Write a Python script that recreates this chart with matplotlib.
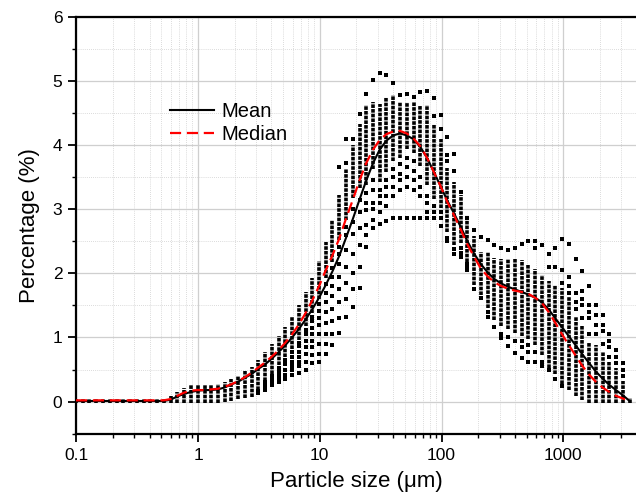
import matplotlib
matplotlib.use("Agg")
import matplotlib.pyplot as plt
from matplotlib.ticker import FixedLocator, FixedFormatter, MultipleLocator, NullFormatter, LogLocator

plt.rcParams['font.family'] = ['Liberation Sans', 'DejaVu Sans']

# Size classes (µm)
sizes = [0.0995, 0.113, 0.128, 0.146, 0.166, 0.188, 0.214, 0.243, 0.276, 0.314,
         0.357, 0.405, 0.460, 0.523, 0.594, 0.675, 0.767, 0.872, 0.991,
         1.13, 1.28, 1.45, 1.65, 1.88, 2.13, 2.42, 2.75, 3.12, 3.55, 4.03, 4.58,
         5.21, 5.92, 6.72, 7.64, 8.68, 9.86,
         11.2, 12.7, 14.5, 16.4, 18.7, 21.2, 24.1, 27.4, 31.1, 35.3, 40.1, 45.6,
         51.8, 58.9, 66.9, 76.0, 86.4, 98.1,
         111, 127, 144, 163, 186, 211, 240, 272, 310, 352, 400, 454, 516, 586,
         666, 756, 859, 976,
         1110, 1260, 1430, 1630, 1850, 2100, 2390, 2710, 3080, 3500]

mean_pct = [0.01] * 14 + [0.03, 0.08, 0.12, 0.15, 0.17,
            0.18, 0.18, 0.19, 0.22, 0.27, 0.31, 0.37, 0.43, 0.51, 0.58, 0.67, 0.77,
            0.88, 1.00, 1.13, 1.28, 1.44, 1.62,
            1.82, 2.03, 2.28, 2.55, 2.85, 3.15, 3.45, 3.72, 3.93, 4.07, 4.15, 4.18,
            4.15, 4.09, 3.97, 3.80, 3.58, 3.36,
            3.14, 2.93, 2.72, 2.50, 2.30, 2.14, 2.01, 1.91, 1.84, 1.79, 1.75, 1.71,
            1.67, 1.62, 1.55, 1.44, 1.30, 1.16,
            1.02, 0.88, 0.74, 0.60, 0.47, 0.36, 0.26, 0.18, 0.10, 0.01]

median_pct = [0.02] * 14 + [0.04, 0.09, 0.14, 0.17, 0.18,
              0.18, 0.19, 0.20, 0.23, 0.27, 0.32, 0.38, 0.45, 0.53, 0.61, 0.70, 0.80,
              0.92, 1.05, 1.20, 1.38, 1.58, 1.80,
              2.05, 2.28, 2.55, 2.85, 3.15, 3.45, 3.72, 3.93, 4.08, 4.17, 4.21, 4.22,
              4.18, 4.10, 3.98, 3.80, 3.58, 3.36,
              3.12, 2.90, 2.68, 2.45, 2.25, 2.07, 1.95, 1.86, 1.80, 1.76, 1.73, 1.71,
              1.68, 1.62, 1.54, 1.40, 1.23, 1.05,
              0.88, 0.72, 0.56, 0.42, 0.31, 0.22, 0.15, 0.09, 0.05, 0.00]

# Densely packed sample values per size class: lower and upper end of the cluster
cluster_lo = [0.0] * 14 + [0, 0, 0, 0, 0,
              0, 0, 0, 0.02, 0.04, 0.06, 0.08, 0.10, 0.20, 0.35, 0.45, 0.60,
              0.72, 0.85, 0.98, 1.20, 1.40, 1.62,
              1.95, 2.20, 2.55, 2.85, 3.20, 3.35, 3.40, 3.65, 3.45, 3.60, 3.77, 3.82,
              3.97, 3.90, 3.70, 3.40, 3.19, 3.04,
              2.67, 2.47, 2.50, 2.20, 1.84, 1.69, 1.48, 1.30, 1.20, 1.15, 1.10, 1.05,
              1.00, 0.90, 0.75, 0.55, 0.45, 0.30,
              0.20, 0.12, 0.05, 0, 0, 0, 0, 0, 0, 0]
cluster_hi = [0.02] * 14 + [0.06, 0.12, 0.19, 0.23, 0.24,
              0.24, 0.24, 0.25, 0.28, 0.32, 0.38, 0.45, 0.52, 0.62, 0.75, 0.88, 1.00,
              1.14, 1.30, 1.48, 1.69, 1.90, 2.16,
              2.47, 2.80, 3.20, 3.60, 3.97, 4.30, 4.60, 4.65, 4.62, 4.73, 4.75, 4.65,
              4.65, 4.65, 4.60, 4.60, 4.30, 4.07,
              3.61, 3.40, 3.20, 2.88, 2.55, 2.31, 2.31, 2.21, 2.20, 2.20, 2.20, 2.18,
              2.10, 2.05, 1.95, 1.85, 1.80, 1.75,
              1.60, 1.30, 1.15, 0.90, 0.85, 0.75, 0.60, 0.50, 0.30, 0.03]

# Isolated sample values, for size classes 3.12 µm ... 3080 µm
scatter_first = 27
scatter_vals = [
    [0.14, 0.17],
    [0.18, 0.23, 0.28, 0.31],
    [0.26, 0.30, 0.35, 0.40],
    [0.30, 0.35, 0.42, 0.48, 0.53],
    [0.35, 0.42, 0.50, 0.58, 0.65],
    [0.42, 0.50, 0.56, 0.62, 0.70, 0.78],
    [0.45, 0.55, 0.62, 0.70, 0.78, 0.86, 0.92],
    [0.50, 0.62, 0.75, 0.85, 0.95, 1.05, 1.12],
    [0.60, 0.72, 0.85, 0.95, 1.05, 1.15, 1.25, 1.32],
    [0.62, 0.75, 0.90, 1.05, 1.20, 1.30, 1.42, 1.52],
    [0.75, 0.90, 1.05, 1.22, 1.40, 1.55, 1.70, 1.84],
    [0.88, 1.05, 1.25, 1.45, 1.65, 1.80, 1.95, 2.08],
    [1.07, 1.30, 1.55, 1.75, 1.95, 2.15, 2.30, 2.41, 3.66],
    [1.32, 1.60, 1.85, 2.10, 2.36, 2.60, 2.72, 3.72, 4.09],
    [1.48, 1.75, 2.00, 2.30, 2.62, 2.80, 3.00, 4.10],
    [1.77, 2.10, 2.44, 2.70, 2.95, 3.14, 4.49],
    [2.41, 2.60, 2.75, 2.98, 3.10, 3.25, 4.80],
    [2.70, 2.83, 3.00, 3.09, 3.30, 3.45, 5.02],
    [2.77, 2.95, 3.10, 3.20, 3.30, 5.12],
    [2.82, 3.05, 3.20, 3.35, 3.45, 5.09],
    [2.86, 3.20, 3.35, 3.50, 3.62, 4.96],
    [2.86, 3.30, 3.45, 3.55, 3.70, 4.78],
    [2.86, 3.35, 3.50, 3.65, 3.80, 4.80],
    [2.86, 3.30, 3.45, 3.60, 3.75, 4.75],
    [2.86, 3.20, 3.35, 3.50, 4.83],
    [2.86, 2.95, 3.10, 3.20, 4.84],
    [2.86, 2.95, 3.05, 4.45, 4.73],
    [2.73, 2.86, 2.95, 4.25, 4.47],
    [2.50, 2.55, 3.75, 3.85, 4.13],
    [2.30, 2.38, 3.60, 3.86],
    [2.25, 2.32, 2.40, 3.27],
    [2.05, 2.10, 2.15, 2.86],
    [1.75, 2.67],
    [1.61, 2.57],
    [1.32, 1.40, 2.52],
    [1.17, 2.44],
    [0.99, 1.05, 2.40],
    [0.86, 1.00, 2.36],
    [0.76, 0.95, 2.39],
    [0.68, 0.85, 0.95, 2.46],
    [0.62, 0.78, 0.88, 2.51],
    [0.62, 0.78, 2.40, 2.51],
    [0.55, 0.62, 2.44],
    [0.49, 2.10, 2.30],
    [0.35, 2.10, 2.39],
    [0.25, 1.85, 2.05, 2.53],
    [1.70, 1.80, 1.95, 2.45],
    [1.45, 1.55, 1.70, 2.22],
    [1.30, 1.50, 1.60, 1.73, 2.04],
    [1.05, 1.30, 1.40, 1.50, 1.80],
    [1.05, 1.20, 1.35, 1.51],
    [0.90, 1.10, 1.20, 1.35],
    [0.70, 0.85, 0.95, 1.05],
    [0.60, 0.70, 0.80],
    [0.40, 0.50, 0.60],
]

x_ticks = [0.1, 1, 10, 100, 1000]
x_tick_labels = ["0.1", "1", "10", "100", "1000"]
y_ticks = [0, 1, 2, 3, 4, 5, 6]

W, H = 636, 497
fig = plt.figure(figsize=(W / 100, H / 100), dpi=100)
ax = fig.add_axes([76.3 / W, 1 - 433.7 / H, (W - 76.3) / W, (433.7 - 16.7) / H])
ax.set_xscale('log')
ax.set_xlim(0.1, 3954)
ax.set_ylim(-0.5, 6)

# grid
ax.set_axisbelow(True)
ax.grid(True, which='major', color='#cfcfcf', linewidth=0.9, linestyle='-')
ax.grid(True, which='minor', color='#cfcfcf', linewidth=0.6, linestyle=(0, (1, 1.5)))

# samples: dense clusters drawn as stacked square dots
ax.vlines(sizes, [v - 0.025 for v in cluster_lo], [v + 0.025 for v in cluster_hi],
          colors='black', linewidth=2.6, linestyles=(0, (1.0, 0.3)),
          capstyle='butt', zorder=3)
# isolated samples
sx, sy = [], []
for k, vals in enumerate(scatter_vals):
    for v in vals:
        sx.append(sizes[scatter_first + k])
        sy.append(v)
ax.plot(sx, sy, linestyle='none', marker='s', markersize=2.6, color='black',
        markeredgewidth=0, zorder=3)

ax.plot(sizes, mean_pct, color='black', linewidth=1.5, zorder=4, label='Mean')
ax.plot(sizes, median_pct, color='#ff0000', linewidth=1.6, dashes=(5, 2.6),
        zorder=5, label='Median')

# ticks
ax.xaxis.set_major_locator(FixedLocator(x_ticks))
ax.xaxis.set_major_formatter(FixedFormatter(x_tick_labels))
ax.xaxis.set_minor_locator(LogLocator(base=10, subs=range(2, 10), numticks=20))
ax.xaxis.set_minor_formatter(NullFormatter())
ax.yaxis.set_major_locator(FixedLocator(y_ticks))
ax.yaxis.set_minor_locator(MultipleLocator(0.5))
ax.tick_params(which='major', direction='out', length=6, width=1.3, labelsize=12.5,
               pad=4, colors='black')
ax.tick_params(which='minor', direction='out', length=3, width=1.0)

for side in ['left', 'bottom', 'top']:
    ax.spines[side].set_linewidth(1.6)
ax.spines['right'].set_visible(False)

ax.set_xlabel('Particle size (μm)', fontsize=16, labelpad=6)
ax.set_ylabel('Percentage (%)', fontsize=16, labelpad=9)

leg = ax.legend(loc='upper left', bbox_to_anchor=(170 / W, 1 - 102 / H),
                bbox_transform=fig.transFigure, frameon=False, fontsize=14.5,
                handlelength=2.2, handletextpad=0.35, labelspacing=0.2,
                borderpad=0, borderaxespad=0)

fig.savefig('out.png', dpi=100)
